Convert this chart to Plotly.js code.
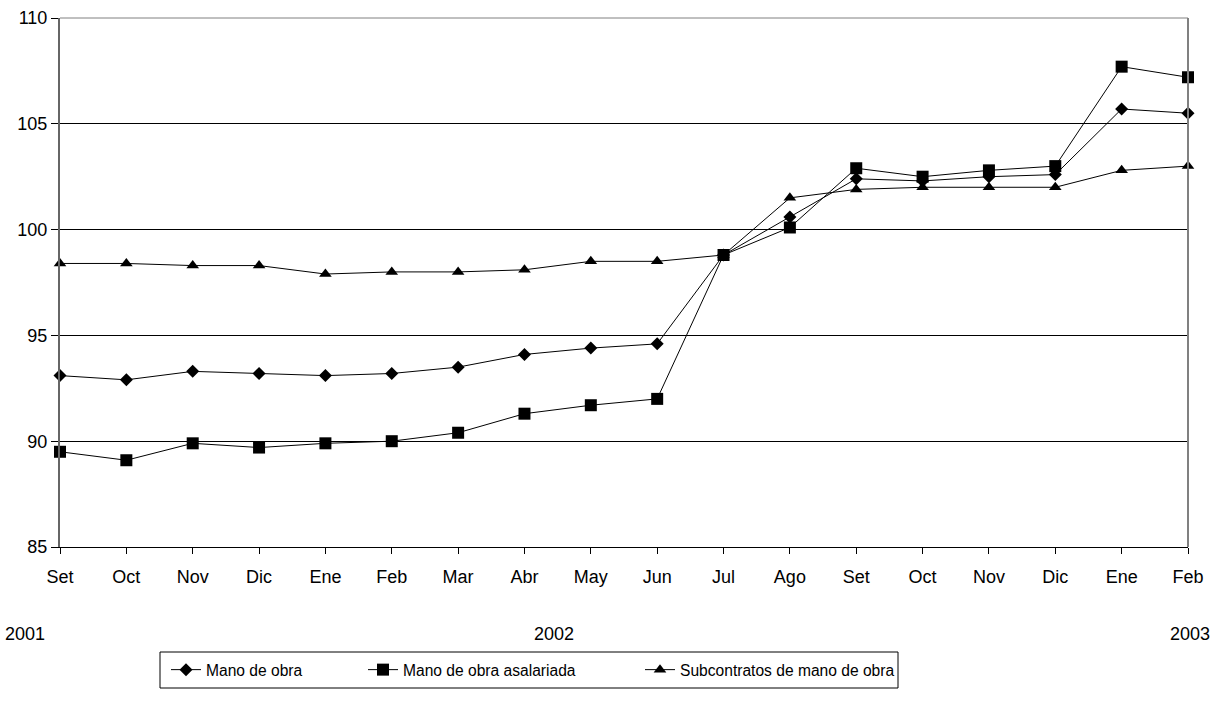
<!DOCTYPE html>
<html>
<head>
<meta charset="utf-8">
<script src="https://cdn.plot.ly/plotly-3.0.1.min.js"></script>
<style>html,body{margin:0;padding:0;background:#fff;}#chart{width:1223px;height:711px;}</style>
</head>
<body>
<div id="chart"></div>
<script>
const months = ["Set","Oct","Nov","Dic","Ene","Feb","Mar","Abr","May","Jun","Jul","Ago","Set","Oct","Nov","Dic","Ene","Feb"];
const manoDeObra = [93.1,92.9,93.3,93.2,93.1,93.2,93.5,94.1,94.4,94.6,98.8,100.6,102.4,102.3,102.5,102.6,105.7,105.5];
const manoAsalariada = [89.5,89.1,89.9,89.7,89.9,90.0,90.4,91.3,91.7,92.0,98.8,100.1,102.9,102.5,102.8,103.0,107.7,107.2];
const subcontratos = [98.4,98.4,98.3,98.3,97.9,98.0,98.0,98.1,98.5,98.5,98.8,101.5,101.9,102.0,102.0,102.0,102.8,103.0];
const years = ["2001","2002","2003"];
const yearPos = [-0.52,7.45,17.03];
const seriesNames = ["Mano de obra","Mano de obra asalariada","Subcontratos de mano de obra"];

const idx = months.map((m,i)=>i);
const FAM = "Liberation Sans, Arial, sans-serif";
const font = {family:FAM, size:18, color:"#000"};
const lfont = {family:FAM, size:15.6, color:"#000"};

function tr(y,name,sym,size,leg){
  return {x:idx,y:y,name:name,type:"scatter",mode:"lines+markers",legend:leg,
    line:{color:"#000",width:1},marker:{symbol:sym,size:size,color:"#000"},cliponaxis:false};
}
const data = [
  tr(manoDeObra,seriesNames[0],"diamond",10,"legend"),
  tr(manoAsalariada,seriesNames[1],"square",12,"legend2"),
  tr(subcontratos,seriesNames[2],"triangle-up",11,"legend3")
];
function leg(xpx){
  return {orientation:"h",x:(xpx-60)/1128,xanchor:"left",y:-0.2325,yanchor:"middle",
    bgcolor:"rgba(0,0,0,0)",borderwidth:0,font:lfont};
}
const layout = {
  width:1223,height:711,
  margin:{l:60,r:35,t:18,b:164},
  paper_bgcolor:"#fff",plot_bgcolor:"#fff",
  font:font,
  showlegend:true,
  legend:leg(166),
  legend2:leg(363),
  legend3:leg(640),
  xaxis:{range:[0,17],tickvals:idx,ticktext:months,showgrid:false,zeroline:false,
    ticks:"outside",ticklen:6,tickcolor:"#000",showline:true,linecolor:"#000",linewidth:1,
    tickfont:font,ticklabelstandoff:7},
  yaxis:{range:[85,110],tickvals:[85,90,95,100,105,110],showgrid:true,gridcolor:"#000",gridwidth:1,
    zeroline:false,ticks:"outside",ticklen:7,tickcolor:"#000",showline:true,linecolor:"#666",linewidth:2,
    tickfont:font},
  shapes:[
    {type:"line",xref:"paper",yref:"paper",x0:1,x1:1,y0:0,y1:1,line:{color:"#808080",width:2}},
    {type:"line",xref:"paper",yref:"paper",x0:0,x1:1,y0:1,y1:1,line:{color:"#808080",width:1}},
    {type:"rect",xref:"paper",yref:"paper",x0:(160-60)/1128,x1:(898-60)/1128,y0:(547-688)/529,y1:(547-652)/529,
      line:{color:"#000",width:1},fillcolor:"rgba(0,0,0,0)"}
  ],
  annotations:years.map((t,i)=>({text:t,x:yearPos[i]/17,xref:"paper",xanchor:"center",y:-0.165,yref:"paper",yanchor:"middle",showarrow:false,font:font}))
};
Plotly.newPlot("chart",data,layout,{displayModeBar:false,staticPlot:true});
</script>
</body>
</html>
